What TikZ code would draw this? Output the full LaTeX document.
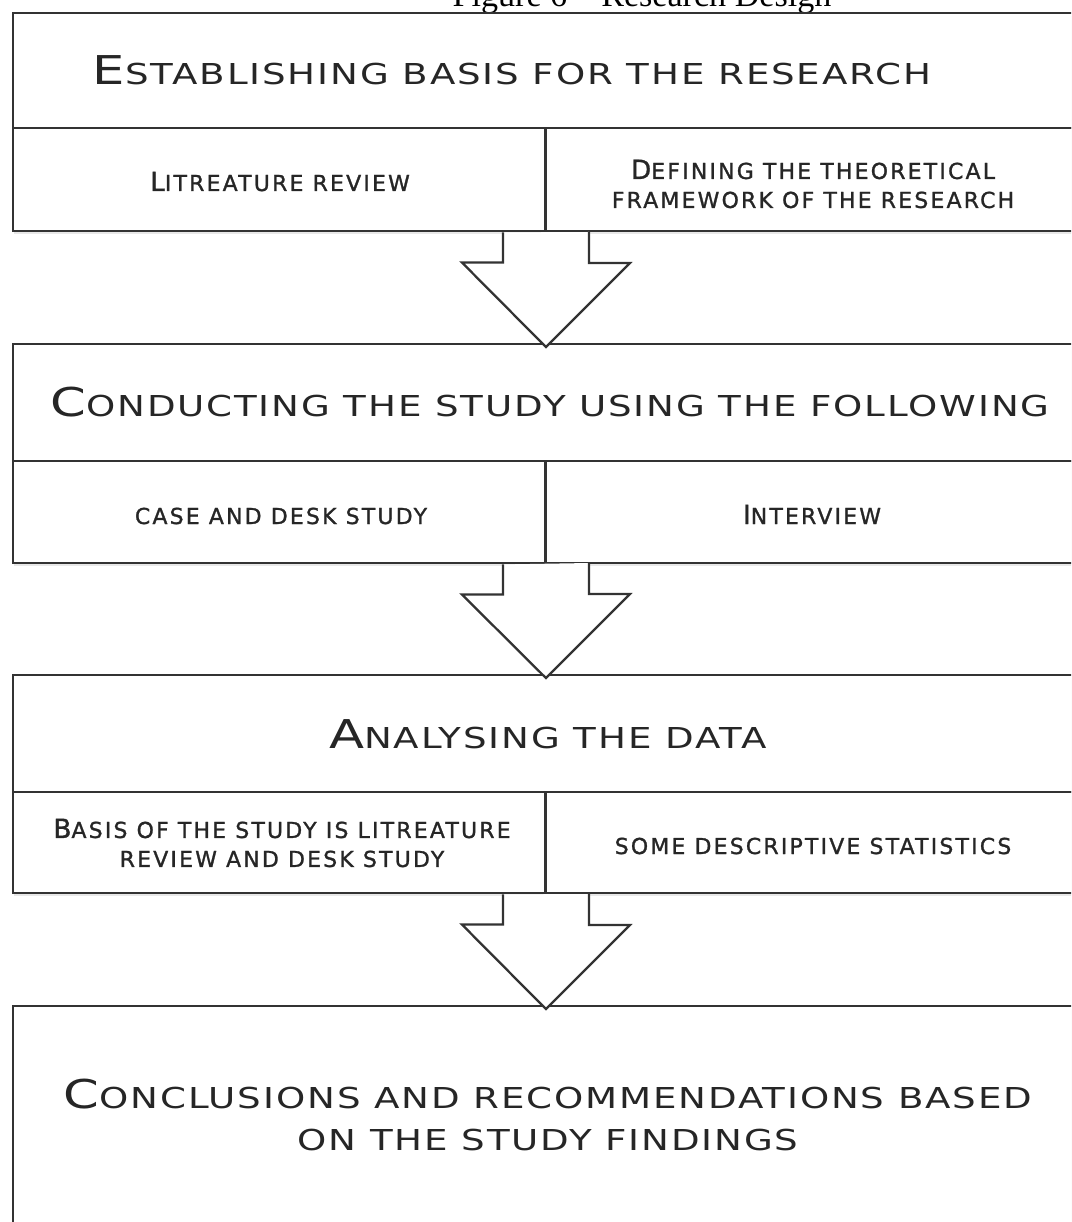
\documentclass[tikz,border=0pt]{standalone}
\usepackage{fontspec}
\usepackage{graphicx}
\setmainfont{DejaVu Sans}
\newfontfamily\headfont{DejaVu Sans}[LetterSpace=5]
\newfontfamily\cellfont{DejaVu Sans}[LetterSpace=10, FakeBold=1.2]
\newfontfamily\captionfont{Liberation Serif}
\usetikzlibrary{positioning, shadows}

% fake small capitals: large initial, smaller rest (headers are also widened)
\newcommand{\hsc}[2]{\scalebox{1.29}[1]{{\fontsize{22.6}{26}\selectfont #1}{\fontsize{16.4}{20}\selectfont #2}}}
\newcommand{\ssc}[2]{{\fontsize{15}{18}\selectfont #1}{\fontsize{12.5}{16.5}\selectfont #2}}

\begin{document}
\begin{tikzpicture}[x=0.02cm, y=-0.02cm,
    cell/.style={draw=black!80, line width=1.6pt, fill=white, inner sep=0pt, outer sep=0pt,
        drop shadow={shadow xshift=0.5pt, shadow yshift=-1.5pt, opacity=0.18}},
    headtext/.style={font=\headfont\fontsize{16.4}{23.8}\selectfont, text=black!85, inner sep=0pt, align=center},
    celltext/.style={font=\cellfont\fontsize{12.5}{16.5}\selectfont, text=black!85, inner sep=0pt, align=center},
    flowarrow/.style={draw=black!80, line width=1.3pt, fill=white, line join=miter}]

    \clip (0,0) rectangle (1071,1222);
    \useasboundingbox (0,0) rectangle (1071,1222);

    % ===== Caption (cut by the top edge) =====
    \node[font=\captionfont\fontsize{19.4}{22}\selectfont, anchor=base, inner sep=0pt] (caption) at (642,7)
        {Figure 6 – Research Design};

    % ===== Stage 1: establishing basis =====
    \node[cell, minimum width=21.54cm, minimum height=2.30cm, anchor=north west] (est) at (13,13) {};
    \node[cell, minimum width=10.66cm, minimum height=2.06cm, below right=0pt of est.south west] (lit) {};
    \node[cell, minimum width=10.88cm, minimum height=2.06cm, right=0pt of lit] (def) {};

    \node[headtext, anchor=base] (t-est) at (512,85) {\hsc{E}{STABLISHING BASIS FOR THE RESEARCH}};
    \node[celltext, anchor=base] (t-lit) at (280,191) {\ssc{L}{ITREATURE REVIEW}};
    \node[celltext] (t-def) at (813,184)
        {\ssc{D}{EFINING THE THEORETICAL}\\\ssc{}{FRAMEWORK OF THE RESEARCH}};

    % ===== Stage 2: conducting the study =====
    \node[cell, minimum width=21.54cm, minimum height=2.34cm, anchor=north west] (con) at (13,344) {};
    \node[cell, minimum width=10.66cm, minimum height=2.04cm, below right=0pt of con.south west] (cas) {};
    \node[cell, minimum width=10.88cm, minimum height=2.04cm, right=0pt of cas] (int) {};

    \node[headtext, anchor=base] (t-con) at (550,417) {\hsc{C}{ONDUCTING THE STUDY USING THE FOLLOWING}};
    \node[celltext, anchor=base] (t-cas) at (281,524) {\ssc{}{CASE AND DESK STUDY}};
    \node[celltext, anchor=base] (t-int) at (812,524) {\ssc{I}{NTERVIEW}};

    % ===== Stage 3: analysing the data =====
    \node[cell, minimum width=21.54cm, minimum height=2.34cm, anchor=north west] (ana) at (13,675) {};
    \node[cell, minimum width=10.66cm, minimum height=2.02cm, below right=0pt of ana.south west] (bas) {};
    \node[cell, minimum width=10.88cm, minimum height=2.02cm, right=0pt of bas] (sta) {};

    \node[headtext, anchor=base] (t-ana) at (548,748) {\hsc{A}{NALYSING THE DATA}};
    \node[celltext] (t-bas) at (282,843)
        {\ssc{B}{ASIS OF THE STUDY IS LITREATURE}\\\ssc{}{REVIEW AND DESK STUDY}};
    \node[celltext, anchor=base] (t-sta) at (813,854) {\ssc{}{SOME DESCRIPTIVE STATISTICS}};

    % ===== Stage 4: conclusions =====
    \node[cell, minimum width=21.54cm, minimum height=4.68cm, anchor=north west] (cnc) at (13,1006) {};
    \node[headtext] (t-cnc) at (548,1115)
        {\hsc{C}{ONCLUSIONS AND RECOMMENDATIONS BASED}\\\hsc{}{ON THE STUDY FINDINGS}};

    % ===== Block arrows between stages =====
    \path (lit.south east) coordinate (a1) (lit.south east |- con.north) ++(0,3) coordinate (a1tip);
    \draw[flowarrow] (a1) ++(-43,1.5) -- ++(0,30) -- ++(-41,0) -- (a1tip) -- ++(84,-84) -- ++(-41,0) -- ++(0,-31);

    \path (cas.south east) coordinate (a2) (cas.south east |- ana.north) ++(0,3) coordinate (a2tip);
    \draw[flowarrow] (a2) ++(-43,1.5) -- ++(0,30) -- ++(-41,0) -- (a2tip) -- ++(84,-84) -- ++(-41,0) -- ++(0,-31);

    \path (bas.south east) coordinate (a3) (bas.south east |- cnc.north) ++(0,3) coordinate (a3tip);
    \draw[flowarrow] (a3) ++(-43,1.5) -- ++(0,30) -- ++(-41,0) -- (a3tip) -- ++(84,-84) -- ++(-41,0) -- ++(0,-31);

\end{tikzpicture}
\end{document}
